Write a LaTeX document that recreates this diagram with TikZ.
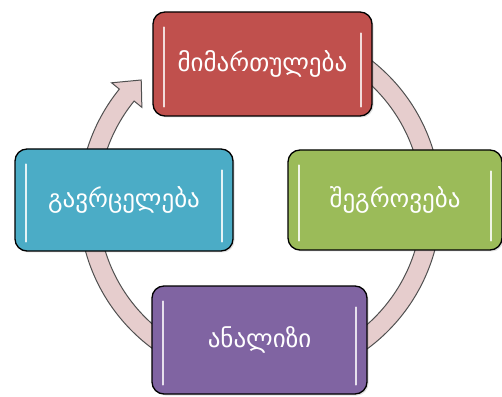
\documentclass[tikz,border=0pt]{standalone}
\usepackage{fontspec}
\setmainfont{DejaVu Sans}
\usetikzlibrary{shadows}
\definecolor{cred}{HTML}{C0504D}
\definecolor{cblue}{HTML}{4BACC6}
\definecolor{cgreen}{HTML}{9BBB59}
\definecolor{cpurple}{HTML}{8064A2}
\definecolor{ringfill}{RGB}{230,205,205}
\definecolor{ringline}{RGB}{80,80,80}
\tikzset{
  stagebox/.style={rounded corners=12pt, draw=black, line width=1.3pt,
    minimum width=#1, inner sep=0pt, text=white,
    font=\fontsize{25}{28}\selectfont,
    drop shadow={shadow xshift=1.5pt, shadow yshift=-1.5pt, opacity=0.25}},
  shine/.style={line width=2.2pt, line cap=round, draw=#1},
}
\begin{document}
\begin{tikzpicture}[x=1pt,y=1pt]
\useasboundingbox (0,0) rectangle (502,396);
% cycle arrow
\begin{scope}[shift={(260,193)}]
\filldraw[fill=ringfill, draw=ringline, line width=1pt]
  (100:181pt) arc[start angle=100, end angle=-219, radius=181pt]
  -- (-219:191pt) -- (-226:171pt) -- (-219:152pt) -- (-219:162pt)
  arc[start angle=-219, end angle=100, radius=162pt] -- cycle;
\end{scope}
% boxes
\node[stagebox=219pt, minimum height=104pt, fill=cred] (top) at (262.5,332) {მიმართულება};
\node[stagebox=214pt, minimum height=100pt, fill=cgreen] (right) at (395,196) {შეგროვება};
\node[stagebox=218pt, minimum height=102pt, fill=cblue] (left) at (124,196) {გავრცელება};
\node[stagebox=215pt, minimum height=108pt, fill=cpurple] (bot) at (259.5,56) {ანალიზი};
% highlights
\foreach \n/\c in {top/cred!20!white, right/cgreen!15!white, left/cblue!15!white, bot/cpurple!20!white}{
  \draw[shine=\c] ([xshift=12pt,yshift=-16pt]\n.north west) -- ([xshift=12pt,yshift=10pt]\n.south west);
  \draw[shine=\c] ([xshift=-12pt,yshift=-22pt]\n.north east) -- ([xshift=-12pt,yshift=10pt]\n.south east);
}
\end{tikzpicture}
\end{document}
